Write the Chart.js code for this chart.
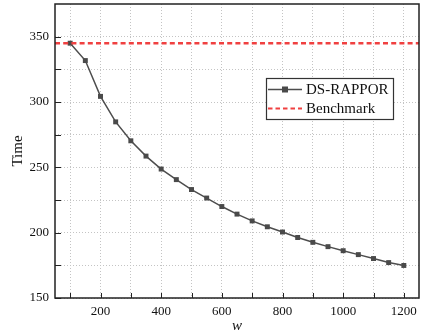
<!DOCTYPE html>
<html><head><meta charset="utf-8">
<script src="https://cdn.jsdelivr.net/npm/chart.js@4"></script>
<style>html,body{margin:0;padding:0;background:#fff}#wrap{width:423px;height:335px}</style>
</head><body><div id="wrap"><canvas id="c" width="423" height="335"></canvas></div>
<script>
const wValues = [100,150,200,250,300,350,400,450,500,550,600,650,700,750,800,850,900,950,1000,1050,1100,1150,1200];
const dsRappor = [345,331.7,304.3,284.8,270.3,258.6,248.7,240.6,233,226.5,220,214.2,209,204.5,200.5,196.3,192.6,189.3,186.2,183.2,180.2,177.1,174.9];
const benchmarkValue = 345;
const xTicks = [100,200,300,400,500,600,700,800,900,1000,1100,1200];
const yTicks = [150,175,200,225,250,275,300,325,350];
const seriesNames = ['DS-RAPPOR','Benchmark'];
const axisTitles = {x:'w', y:'Time'};

const SERIF = '"Liberation Serif","Times New Roman",serif';

const framePlugin = {
  id:'frame',
  afterDraw(chart){
    const {ctx, chartArea:a, scales} = chart;
    ctx.save();
    ctx.strokeStyle='#222'; ctx.lineWidth=1;
    scales.x.ticks.forEach(t=>{
      const x=Math.round(scales.x.getPixelForValue(t.value))+0.5;
      ctx.beginPath(); ctx.moveTo(x,a.bottom); ctx.lineTo(x,a.bottom-5); ctx.stroke();
    });
    scales.y.ticks.forEach(t=>{
      const y=Math.round(scales.y.getPixelForValue(t.value))+0.5;
      ctx.beginPath(); ctx.moveTo(a.left,y); ctx.lineTo(a.left+6,y); ctx.stroke();
    });
    ctx.strokeStyle='#222'; ctx.lineWidth=1.5;
    ctx.strokeRect(a.left,a.top,a.right-a.left,a.bottom-a.top);
    const lx=266, ly=78, lw=127, lh=41;
    ctx.fillStyle='#fff'; ctx.fillRect(lx,ly,lw,lh);
    ctx.strokeStyle='#333'; ctx.lineWidth=1.2; ctx.strokeRect(lx+0.5,ly+0.5,lw,lh);
    const ds = chart.data.datasets;
    let y1=ly+11.5;
    ctx.strokeStyle=ds[0].borderColor; ctx.lineWidth=1.5; ctx.setLineDash([]);
    ctx.beginPath(); ctx.moveTo(lx+2,y1); ctx.lineTo(lx+36,y1); ctx.stroke();
    ctx.fillStyle=ds[0].pointBackgroundColor; ctx.fillRect(lx+19-3,y1-3,6,6);
    ctx.fillStyle='#111'; ctx.font='15px '+SERIF; ctx.textBaseline='middle'; ctx.textAlign='left';
    ctx.fillText(ds[0].label,lx+40,y1+1);
    let y2=ly+30.5;
    ctx.strokeStyle=ds[1].borderColor; ctx.lineWidth=2; ctx.setLineDash([4.5,3]);
    ctx.beginPath(); ctx.moveTo(lx+2,y2); ctx.lineTo(lx+36,y2); ctx.stroke();
    ctx.setLineDash([]);
    ctx.fillText(ds[1].label,lx+40,y2+1);
    ctx.restore();
  }
};

new Chart(document.getElementById('c'),{
  type:'line',
  data:{datasets:[
    {label:seriesNames[0], data:wValues.map((w,i)=>({x:w,y:dsRappor[i]})), borderColor:'#4d4d4d', borderWidth:1.5,
     pointStyle:'rect', pointRadius:3.5, pointBackgroundColor:'#4a4a4a', pointBorderColor:'#4a4a4a', pointBorderWidth:0, tension:0, order:2},
    {label:seriesNames[1], data:[{x:50,y:benchmarkValue},{x:1250,y:benchmarkValue}], borderColor:'#f04040', borderWidth:2.4,
     borderDash:[5,3.2], pointRadius:0, tension:0, order:1}
  ]},
  options:{
    responsive:false, animation:false,
    layout:{padding:{left:0,right:1,top:3,bottom:0}},
    plugins:{legend:{display:false},tooltip:{enabled:false}},
    scales:{
      x:{type:'linear', min:50, max:1250,
        afterBuildTicks:s=>{s.ticks=xTicks.map(v=>({value:v}));},
        afterFit:s=>{s.height=37; s.paddingLeft=0; s.paddingRight=0;},
        grid:{color:'#c4c4c4', lineWidth:1, drawTicks:false},
        border:{display:false, dash:[1,2]},
        ticks:{padding:6, color:'#111', font:{family:SERIF,size:13}, maxRotation:0, autoSkip:false,
          callback:v=> v%200===0 ? String(v) : ''},
        title:{display:true, text:axisTitles.x, color:'#111', font:{family:SERIF,size:15,style:'italic'}, padding:{top:0,bottom:0}}
      },
      y:{min:150, max:375,
        afterBuildTicks:s=>{s.ticks=yTicks.map(v=>({value:v}));},
        afterFit:s=>{s.width=55; s.paddingTop=0; s.paddingBottom=0;},
        grid:{color:'#c4c4c4', lineWidth:1, drawTicks:false},
        border:{display:false, dash:[1,2]},
        ticks:{padding:6, color:'#111', font:{family:SERIF,size:13}, autoSkip:false,
          callback:v=> v%50===0 ? String(v) : ''},
        title:{display:true, text:axisTitles.y, color:'#111', font:{family:SERIF,size:15}, padding:{top:9,bottom:0}}
      }
    }
  },
  plugins:[framePlugin]
});
</script></body></html>
